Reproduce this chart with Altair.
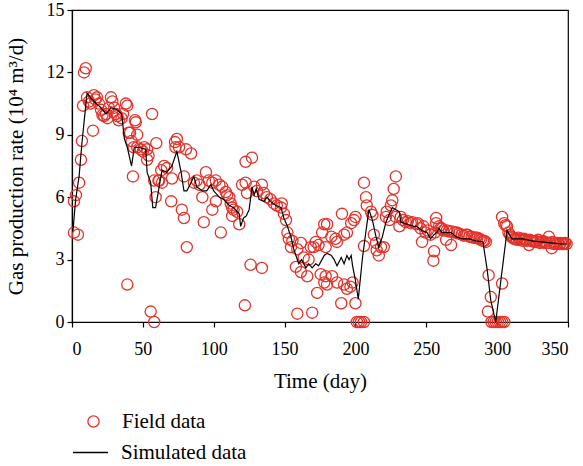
import altair as alt
import pandas as pd

# ---- Field data (day, rate 10^4 m3/d) ----
field_days = [
    1.4, 1.4, 2.8, 4.2, 5.0, 6.3, 7.0, 7.8, 8.5, 9.7,
    10.6, 12.0, 13.0, 14.8, 15.5, 16.5, 17.6, 19.0, 20.5, 21.5,
    22.6, 24.0, 25.0, 26.0, 27.5, 28.5, 29.7, 31.0, 32.0, 33.0,
    35.0, 36.0, 38.0, 39.0, 39.0, 40.0, 41.0, 42.0, 43.0, 43.5,
    44.5, 45.0, 46.0, 46.0, 48.5, 50.0, 51.0, 53.0, 53.0, 54.0,
    55.5, 56.5, 58.0, 58.0, 59.0, 59.5, 61.0, 61.5, 63.0, 63.5,
    65.0, 67.0, 70.0, 70.5, 72.7, 73.0, 74.0, 75.5, 77.5, 79.0,
    79.0, 80.5, 81.0, 84.0, 86.0, 88.0, 90.0, 92.0, 93.0, 94.5,
    96.5, 99.0, 99.0, 101.5, 101.5, 104.0, 105.0, 106.0, 108.5, 109.5,
    111.0, 112.0, 113.0, 113.0, 114.0, 116.5, 118.0, 120.0, 122.0, 122.5,
    122.5, 123.5, 126.0, 127.0, 128.5, 130.5, 134.0, 134.0, 135.5, 137.5,
    140.0, 142.5, 144.5, 147.5, 148.0, 149.5, 151.0, 152.0, 153.0, 154.5,
    155.5, 158.0, 159.0, 159.0, 161.5, 161.5, 163.5, 166.0, 167.0, 168.5,
    169.5, 170.5, 172.0, 173.0, 174.0, 175.5, 176.5, 178.0, 178.0, 179.0,
    179.0, 180.0, 180.0, 183.0, 183.5, 186.0, 187.0, 187.0, 190.0, 190.5,
    192.0, 192.0, 194.0, 194.0, 196.5, 197.0, 198.0, 199.0, 200.0, 200.0,
    201.0, 202.5, 204.0, 206.0, 206.0, 206.0, 207.5, 208.0, 211.0, 212.0,
    213.0, 214.5, 215.0, 216.5, 218.0, 220.0, 221.5, 222.0, 224.0, 225.0,
    226.0, 227.0, 228.5, 228.5, 231.0, 232.0, 233.5, 235.5, 237.0, 239.0,
    240.0, 243.0, 244.0, 246.0, 247.0, 248.0, 249.5, 251.0, 253.0, 255.0,
    255.5, 256.0, 257.0, 257.0, 259.0, 260.0, 261.0, 262.0, 264.0, 264.5,
    266.0, 267.5, 268.0, 270.0, 271.5, 273.0, 275.0, 276.5, 278.0, 279.0,
    280.5, 282.0, 283.5, 285.0, 286.0, 287.5, 288.5, 290.0, 291.0, 292.0,
    293.5, 294.0, 295.5, 296.0, 297.5, 299.0, 300.5, 302.0, 303.5, 305.0,
    303.5, 303.5, 305.0, 306.0, 307.0, 308.0, 309.0, 310.0, 311.0, 312.0,
    313.0, 314.0, 315.0, 316.0, 317.0, 318.0, 319.0, 320.0, 321.0, 322.5,
    323.0, 324.0, 325.0, 326.0, 327.0, 328.0, 329.0, 330.0, 331.0, 332.0,
    333.0, 334.0, 335.0, 336.5, 337.0, 338.5, 339.0, 340.0, 341.0, 342.0,
    343.0, 344.0, 345.0, 346.0, 347.0, 348.0, 349.0,
]
field_rates = [
    4.3, 5.8, 6.1, 4.2, 6.7, 7.8, 8.7, 10.4, 12.0, 12.2,
    10.8, 10.6, 10.5, 9.2, 10.9, 10.7, 10.8, 10.5, 10.2, 9.95,
    9.9, 10.0, 9.8, 10.3, 10.8, 10.6, 10.3, 10.0, 9.9, 9.7,
    9.8, 10.0, 10.5, 10.4, 1.8, 9.1, 9.1, 8.7, 7.0, 8.4,
    9.7, 9.6, 9.0, 8.4, 8.3, 8.2, 8.4, 8.3, 7.8, 8.0,
    0.5, 10.0, 6.8, 0.0, 6.0, 8.6, 6.8, 6.8, 7.3, 6.7,
    7.5, 7.4, 5.8, 6.9, 8.65, 8.4, 8.8, 8.4, 5.4, 5.0,
    7.0, 8.3, 3.6, 8.1, 6.7, 6.8, 6.6, 6.0, 4.8, 7.2,
    6.8, 6.7, 5.4, 6.8, 5.8, 6.6, 4.3, 6.5, 6.25, 6.1,
    6.0, 5.7, 5.5, 5.1, 5.4, 5.3, 4.7, 6.6, 0.8, 7.7,
    6.7, 6.2, 2.75, 7.9, 6.5, 6.3, 6.6, 2.6, 6.2, 6.0,
    5.9, 5.7, 5.6, 5.5, 5.7, 5.2, 4.9, 4.3, 4.0, 3.6,
    3.9, 2.65, 3.5, 0.4, 3.8, 2.4, 3.1, 2.2, 3.0, 3.6,
    0.45, 3.6, 3.85, 1.4, 3.7, 2.3, 4.3, 4.7, 1.9, 3.6,
    2.2, 4.7, 1.8, 4.1, 2.2, 4.0, 3.85, 1.9, 0.9, 5.2,
    4.2, 1.8, 4.3, 1.6, 1.7, 4.75, 1.9, 4.9, 5.05, 0.9,
    0.0, 0.0, 0.0, 0.0, 6.7, 3.65, 6.0, 5.6, 5.3, 5.15,
    4.2, 3.8, 3.45, 3.2, 3.6, 3.6, 5.05, 5.3, 4.9, 5.6,
    5.85, 6.4, 7.0, 5.05, 4.6, 5.05, 4.9, 4.8, 4.85, 4.75,
    4.8, 4.7, 4.75, 4.5, 3.85, 4.6, 4.3, 4.4, 4.2, 2.95,
    3.4, 4.3, 5.0, 4.75, 4.6, 4.5, 4.5, 4.4, 3.95, 4.4,
    4.35, 3.7, 4.35, 4.3, 4.3, 4.25, 4.2, 4.15, 4.2, 4.2,
    4.1, 4.1, 4.05, 4.05, 4.05, 4.0, 3.95, 3.9, 3.9, 3.85,
    0.5, 2.25, 1.2, 0.0, 0.0, 0.0, 0.0, 0.0, 0.0, 0.0,
    1.85, 5.05, 4.75, 4.65, 4.6, 4.3, 4.2, 4.1, 4.05, 4.0,
    4.0, 3.95, 4.05, 3.95, 4.0, 3.9, 4.0, 3.95, 3.9, 3.7,
    3.95, 3.9, 3.9, 3.85, 3.9, 3.85, 3.95, 3.8, 3.85, 3.9,
    3.8, 3.85, 3.8, 4.1, 3.8, 3.55, 3.85, 3.75, 3.8, 3.75,
    3.8, 3.75, 3.8, 3.75, 3.75, 3.8, 3.75,
]

# ---- Simulated data ----
sim_days = [
    0.7, 2.6, 5.0, 7.0, 10.6, 13.0, 17.0, 20.5, 24.0, 27.5,
    32.0, 35.0, 37.0, 39.0, 42.0, 44.0, 47.0, 52.0, 53.0, 55.5,
    57.0, 59.0, 61.0, 63.5, 67.0, 70.5, 74.0, 77.0, 79.0, 81.0,
    84.0, 86.0, 88.0, 92.0, 95.0, 98.0, 100.0, 104.0, 107.0, 111.0,
    114.0, 118.0, 119.0, 121.0, 123.0, 125.0, 127.0, 128.5, 130.0, 132.0,
    135.5, 137.5, 140.0, 144.0, 147.5, 149.5, 152.0, 154.5, 156.5, 160.0,
    162.0, 165.0, 167.0, 169.5, 172.0, 174.0, 178.0, 180.0, 183.0, 185.0,
    187.0, 190.0, 192.0, 194.0, 195.5, 197.0, 198.0, 200.0, 202.0, 205.0,
    207.5, 209.5, 212.0, 214.5, 216.5, 219.0, 221.5, 224.0, 226.0, 228.5,
    231.0, 232.0, 236.5, 241.0, 243.0, 247.0, 250.5, 253.0, 255.5, 257.5,
    259.0, 261.0, 264.0, 267.5, 271.0, 275.0, 280.0, 285.0, 290.0, 293.0,
    295.5, 299.0, 307.0, 310.5, 317.5, 324.5, 331.5, 338.5, 346.0, 349.0,
]
sim_rates = [
    4.4, 5.9, 7.0, 8.6, 11.0, 10.8, 10.5, 10.3, 10.0, 10.3,
    10.2, 10.0, 8.8, 8.4, 7.5, 8.4, 8.4, 8.3, 7.2, 6.7,
    5.5, 5.5, 6.3, 7.3, 7.2, 7.5, 8.2, 7.2, 6.3, 6.3,
    6.7, 7.0, 6.5, 6.3, 6.3, 6.6, 6.3, 6.0, 5.9, 5.6,
    5.5, 5.2, 4.6, 5.0, 5.1, 5.4, 6.5, 6.1, 6.4, 5.9,
    5.8, 6.0, 5.8, 5.6, 5.5, 5.0, 4.6, 4.1, 3.5, 2.8,
    3.0, 2.6, 2.8, 2.6, 2.8, 2.7, 3.2, 3.3, 3.2, 3.0,
    2.7, 3.1, 2.8, 3.2, 3.0, 3.2, 2.7, 2.0, 1.1, 3.1,
    4.4, 5.4, 4.9, 4.1, 3.6, 4.1, 4.8, 5.2, 5.5, 5.4,
    5.3, 4.8, 4.7, 4.6, 4.6, 4.4, 4.3, 4.0, 4.2, 4.3,
    4.5, 4.3, 4.3, 4.3, 4.1, 4.0, 4.0, 3.9, 3.85, 2.5,
    1.05, 0.0, 4.4, 4.0, 4.0, 3.9, 3.85, 3.8, 3.75, 3.75,
]

x_ticks = [0, 50, 100, 150, 200, 250, 300, 350]
y_ticks = [0, 3, 6, 9, 12, 15]

field_df = pd.DataFrame({"day": field_days, "rate": field_rates})
field_df["series"] = "Field data"
sim_df = pd.DataFrame({"day": sim_days, "rate": sim_rates})
sim_df["series"] = "Simulated data"

FONT = "Liberation Serif"
RED = "#E2332A"

x_enc = alt.X(
    "day:Q",
    scale=alt.Scale(domain=[0, 350], nice=False),
    axis=alt.Axis(values=x_ticks, title="Time (day)", format="d"),
)
y_enc = alt.Y(
    "rate:Q",
    scale=alt.Scale(domain=[0, 15], nice=False),
    axis=alt.Axis(values=y_ticks, title="Gas production rate (10⁴ m³/d)", format="d"),
)

points = alt.Chart(field_df).mark_point(
    filled=False, size=125, strokeWidth=1.3, opacity=1
).encode(
    x=x_enc,
    y=y_enc,
    color=alt.Color(
        "series:N",
        scale=alt.Scale(domain=["Field data"], range=[RED]),
        legend=alt.Legend(
            title=None, orient="none", legendX=11, legendY=401,
            symbolType="circle", symbolSize=125, symbolStrokeWidth=1.3,
            symbolFillColor="transparent", labelOffset=18, padding=0,
        ),
    ),
)

line = alt.Chart(sim_df).mark_line(color="black", strokeWidth=1.2).encode(
    x="day:Q",
    y="rate:Q",
    strokeDash=alt.StrokeDash(
        "series:N",
        scale=alt.Scale(domain=["Simulated data"], range=[[1, 0]]),
        legend=alt.Legend(
            title=None, orient="none", legendX=0, legendY=424,
            symbolType="stroke", symbolSize=1225, symbolStrokeWidth=1.3,
            symbolStrokeColor="black", labelOffset=12, padding=0,
        ),
    ),
)

chart = alt.layer(points, line).resolve_legend(
    color="independent", strokeDash="independent"
).properties(
    width=496,
    height=312,
    autosize=alt.AutoSizeParams(type="none"),
    padding={"left": 72, "top": 10, "right": 15, "bottom": 144},
).configure_view(
    stroke="black", strokeWidth=1.2
).configure_axis(
    grid=False,
    domainColor="black",
    domainWidth=1.2,
    tickColor="black",
    tickWidth=1.2,
    tickSize=5,
    labelFont=FONT,
    labelFontSize=18,
    labelColor="black",
    titleFont=FONT,
    titleFontSize=21,
    titleFontWeight="normal",
    titleColor="black",
).configure_axisX(
    labelPadding=13, titlePadding=12
).configure_axisY(
    labelPadding=3, titlePadding=20
).configure_legend(
    labelFont=FONT, labelFontSize=21, labelColor="black"
)

chart.save("out.html", embed_options={"renderer": "svg", "actions": False})
